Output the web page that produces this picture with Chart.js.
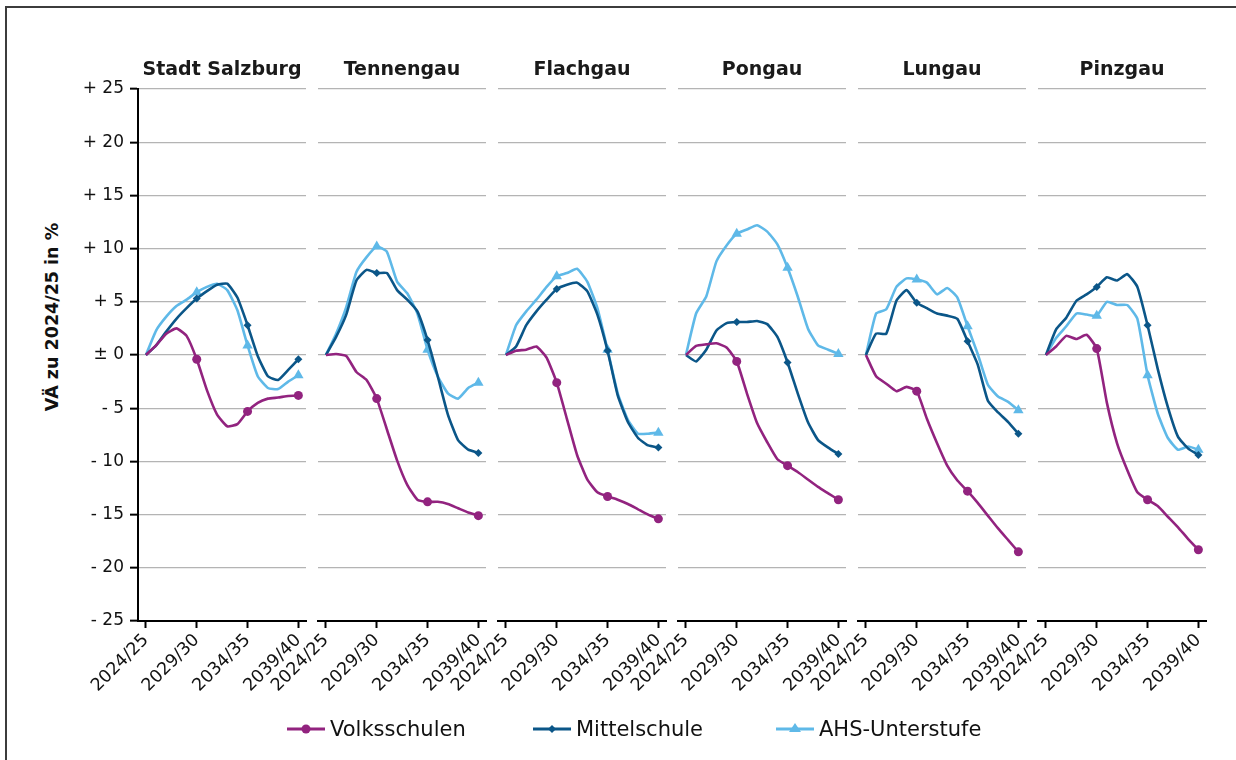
<!DOCTYPE html>
<html>
<head>
<meta charset="utf-8">
<script src="https://cdn.jsdelivr.net/npm/chart.js@4.4.0/dist/chart.umd.min.js"></script>
<style>
  body { margin: 0; background: #fff; font-family: 'DejaVu Sans', sans-serif; }
  #wrap { position: relative; width: 1236px; height: 760px; overflow: hidden; background: #fff; }
  #frame { position: absolute; left: 5px; top: 6px; width: 1300px; height: 800px; border: 2px solid #3c3c3c; }
  #wrap canvas { position: absolute; top: 0; }
  #ytitle {
    position: absolute; left: 52px; top: 317px;
    transform: translate(-50%, -50%) rotate(-90deg);
    font-weight: bold; font-size: 17.5px; color: #111; white-space: nowrap;
  }
  .leg { position: absolute; top: 717px; display: flex; align-items: center; font-size: 21px; color: #111; }
  .leg svg { margin-right: 5px; }
</style>
</head>
<body>
<div id="wrap">
  <div id="frame"></div>
  <div id="ytitle">VÄ zu 2024/25 in %</div>
</div>
<script>
// ─── DATEN ────────────────────────────────────────────────────────────────
const years = ['2024/25', '2025/26', '2026/27', '2027/28', '2028/29', '2029/30', '2030/31', '2031/32',
               '2032/33', '2033/34', '2034/35', '2035/36', '2036/37', '2037/38', '2038/39', '2039/40'];
const labelYears  = [0, 5, 10, 15];   // beschriftete Schuljahre
const markerYears = [5, 10, 15];      // Jahre mit Markierung

const yTicks      = [-25, -20, -15, -10, -5, 0, 5, 10, 15, 20, 25];
const yTickLabels = ['- 25', '- 20', '- 15', '- 10', '- 5', '± 0', '+ 5', '+ 10', '+ 15', '+ 20', '+ 25'];

const regions     = ['Stadt Salzburg', 'Tennengau', 'Flachgau', 'Pongau', 'Lungau', 'Pinzgau'];
const seriesNames = ['Volksschulen', 'Mittelschule', 'AHS-Unterstufe'];

// Stadt Salzburg
const vsStadt  = [0, 0.9, 2.0, 2.5, 1.8, -0.4, -3.3, -5.6, -6.7, -6.5, -5.3, -4.5, -4.1, -4.0, -3.85, -3.8];
const msStadt  = [0, 0.9, 2.2, 3.4, 4.4, 5.3, 6.0, 6.6, 6.7, 5.4, 2.8, -0.1, -2.0, -2.35, -1.4, -0.4];
const ahsStadt = [0, 2.3, 3.6, 4.6, 5.2, 5.9, 6.4, 6.7, 6.1, 4.2, 0.9, -2.0, -3.1, -3.2, -2.5, -1.9];
// Tennengau
const vsTennengau  = [0, 0.1, -0.1, -1.6, -2.35, -4.1, -7.0, -9.9, -12.2, -13.6, -13.8, -13.8, -14.0, -14.4, -14.8, -15.1];
const msTennengau  = [0, 1.7, 3.8, 7.0, 8.0, 7.7, 7.7, 6.1, 5.2, 4.1, 1.4, -2.0, -5.6, -8.0, -8.9, -9.2];
const ahsTennengau = [0, 2.0, 4.5, 7.8, 9.2, 10.2, 9.7, 6.9, 5.8, 3.9, 0.5, -2.0, -3.6, -4.1, -3.1, -2.6];
// Flachgau
const vsFlachgau  = [0, 0.4, 0.5, 0.8, -0.25, -2.6, -6.0, -9.4, -11.7, -12.9, -13.3, -13.6, -14.0, -14.5, -15.0, -15.4];
const msFlachgau  = [0, 0.8, 2.8, 4.1, 5.2, 6.2, 6.6, 6.8, 6.0, 3.8, 0.4, -3.8, -6.3, -7.8, -8.5, -8.7];
const ahsFlachgau = [0, 2.8, 4.1, 5.2, 6.4, 7.4, 7.7, 8.1, 6.9, 4.4, 0.5, -3.6, -6.1, -7.4, -7.4, -7.3];
// Pongau
const vsPongau  = [0, 0.85, 1.0, 1.1, 0.7, -0.6, -3.6, -6.4, -8.2, -9.8, -10.4, -11.0, -11.7, -12.4, -13.0, -13.6];
const msPongau  = [0, -0.6, 0.5, 2.3, 3.0, 3.1, 3.1, 3.2, 2.9, 1.7, -0.7, -3.6, -6.3, -8.0, -8.7, -9.3];
const ahsPongau = [0, 3.9, 5.5, 8.8, 10.3, 11.4, 11.8, 12.2, 11.6, 10.4, 8.2, 5.5, 2.5, 0.9, 0.5, 0.1];
// Lungau
const vsLungau  = [0, -2.0, -2.7, -3.4, -3.0, -3.4, -6.0, -8.3, -10.4, -11.8, -12.8, -13.9, -15.1, -16.3, -17.4, -18.5];
const msLungau  = [0, 2.0, 2.0, 5.1, 6.1, 4.9, 4.4, 3.9, 3.7, 3.4, 1.3, -0.9, -4.3, -5.4, -6.3, -7.4];
const ahsLungau = [0, 3.9, 4.3, 6.4, 7.2, 7.1, 6.8, 5.7, 6.3, 5.4, 2.7, 0.1, -2.8, -3.9, -4.4, -5.2];
// Pinzgau
const vsPinzgau  = [0, 0.8, 1.8, 1.5, 1.9, 0.6, -4.5, -8.3, -10.8, -12.9, -13.6, -14.2, -15.2, -16.2, -17.3, -18.3];
const msPinzgau  = [0, 2.4, 3.5, 5.1, 5.7, 6.4, 7.3, 7.0, 7.6, 6.4, 2.8, -1.3, -4.9, -7.7, -8.8, -9.4];
const ahsPinzgau = [0, 1.6, 2.7, 3.9, 3.8, 3.7, 5.0, 4.7, 4.7, 3.4, -1.9, -5.5, -7.8, -8.9, -8.6, -8.9];

const panelData = [
    [vsStadt, msStadt, ahsStadt],
    [vsTennengau, msTennengau, ahsTennengau],
    [vsFlachgau, msFlachgau, ahsFlachgau],
    [vsPongau, msPongau, ahsPongau],
    [vsLungau, msLungau, ahsLungau],
    [vsPinzgau, msPinzgau, ahsPinzgau]
];

// ─── STIL ─────────────────────────────────────────────────────────────────
const colors      = ['#92237f', '#0b5688', '#5fb9e8'];
const pointStyles = ['circle', 'rectRot', 'triangle'];
const pointSizes  = [4.5, 4, 6];
const FONT = "'DejaVu Sans', sans-serif";

Chart.defaults.font.family = FONT;
Chart.defaults.color = '#111';

// Panel-Titel über der Mitte der Zeichenfläche
const panelTitle = {
    id: 'panelTitle',
    afterDraw(chart, args, opts) {
        const { ctx, chartArea } = chart;
        ctx.save();
        ctx.font = 'bold 19px ' + FONT;
        ctx.fillStyle = '#1a1a1a';
        ctx.textAlign = 'center';
        ctx.textBaseline = 'middle';
        ctx.fillText(opts.text, (chartArea.left + chartArea.right) / 2, 70);
        ctx.restore();
    }
};

const wrap = document.getElementById('wrap');

// ─── PANELS ───────────────────────────────────────────────────────────────
regions.forEach((region, k) => {
    const first = k === 0;
    const areaLeft = 138 + 180 * k;     // linke Kante der Zeichenfläche
    const yW = first ? 138 : 60;        // reservierte Breite links

    const cv = document.createElement('canvas');
    cv.width = yW + 168 + 20;
    cv.height = 710;
    cv.style.left = (areaLeft - yW) + 'px';
    wrap.appendChild(cv);

    new Chart(cv.getContext('2d'), {
        type: 'line',
        data: {
            datasets: panelData[k].map((vals, s) => ({
                label: seriesNames[s],
                data: vals.map((v, i) => ({ x: i, y: v })),
                borderColor: colors[s],
                backgroundColor: colors[s],
                borderWidth: 2.6,
                tension: 0.15,
                pointStyle: pointStyles[s],
                pointRadius: c => markerYears.includes(c.dataIndex) ? pointSizes[s] : 0,
                pointBorderWidth: 0,
                pointBackgroundColor: colors[s]
            }))
        },
        options: {
            responsive: false,
            animation: false,
            layout: { padding: { left: 0, right: 20, top: 89, bottom: 0 } },
            scales: {
                x: {
                    type: 'linear',
                    min: -0.78, max: 15.75,
                    afterBuildTicks: s => { s.ticks = labelYears.map(v => ({ value: v })); },
                    afterFit: s => { s.height = 89; },
                    grid: { drawOnChartArea: false, drawTicks: true, tickLength: 7, tickColor: '#000', tickWidth: 2 },
                    border: { color: '#000', width: 2 },
                    ticks: {
                        autoSkip: false, minRotation: 45, maxRotation: 45,
                        color: '#111', font: { size: 17.5 }, padding: 2,
                        callback: v => years[v]
                    }
                },
                y: {
                    min: -25, max: 25,
                    afterBuildTicks: s => { s.ticks = yTicks.map(v => ({ value: v })); },
                    afterFit: s => { s.width = yW; },
                    grid: { color: '#b4b4b4', lineWidth: 1.3, drawTicks: first, tickLength: 8, tickColor: '#000', tickWidth: 2 },
                    border: { display: first, color: '#000', width: 2 },
                    ticks: {
                        display: first, color: '#111', font: { size: 17 }, padding: 6,
                        callback: (v, i) => yTickLabels[i]
                    }
                }
            },
            plugins: {
                legend: { display: false },
                tooltip: { enabled: false },
                title: { display: false },
                panelTitle: { text: region }
            }
        },
        plugins: [panelTitle]
    });
});

// ─── LEGENDE ──────────────────────────────────────────────────────────────
const legendX = [287, 533, 776];
const markerSvg = [
    c => `<circle cx="19" cy="10" r="4.5" fill="${c}"/>`,
    c => `<polygon points="19,6 23,10 19,14 15,10" fill="${c}"/>`,
    c => `<polygon points="19,4 25,13 13,13" fill="${c}"/>`
];
seriesNames.forEach((name, s) => {
    const div = document.createElement('div');
    div.className = 'leg';
    div.style.left = legendX[s] + 'px';
    div.innerHTML =
        `<svg width="38" height="20"><line x1="0" y1="10" x2="38" y2="10" stroke="${colors[s]}" stroke-width="3"/>` +
        markerSvg[s](colors[s]) + `</svg><span>${name}</span>`;
    wrap.appendChild(div);
});
</script>
</body>
</html>
